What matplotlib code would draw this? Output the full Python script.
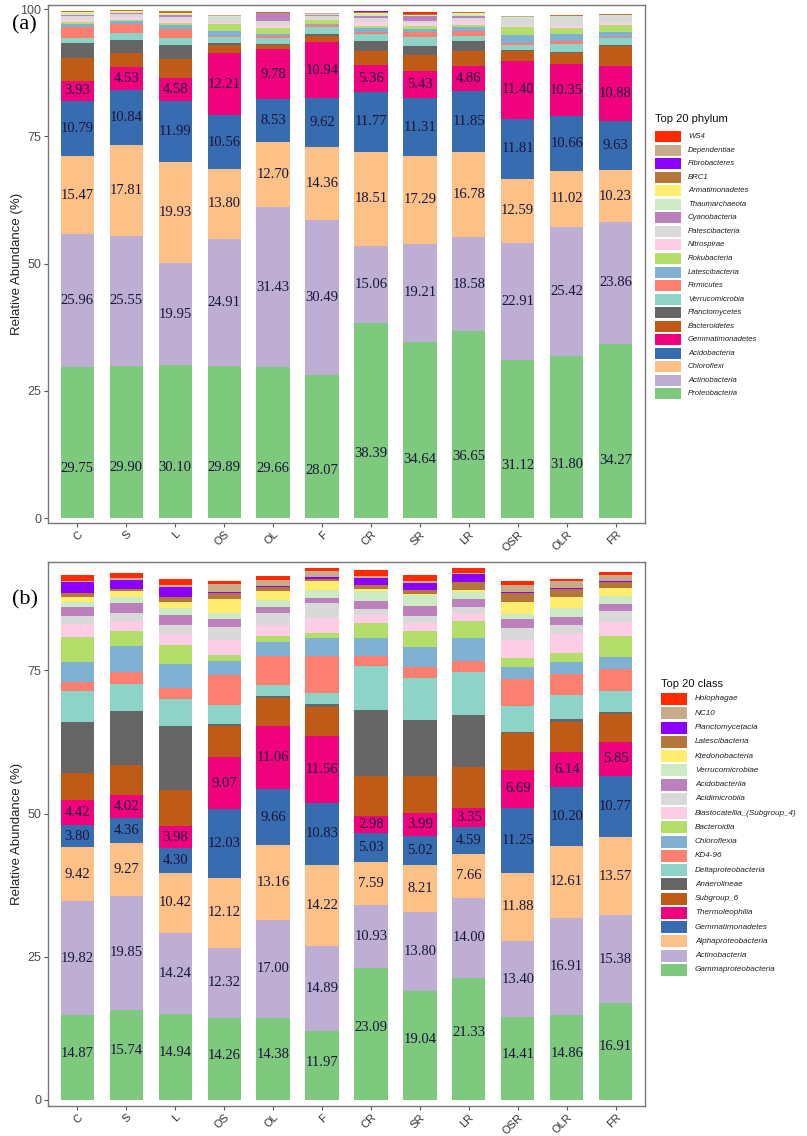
import matplotlib
matplotlib.use("Agg")
import matplotlib.pyplot as plt
from matplotlib.patches import Rectangle
import numpy as np

samples = ["C", "S", "L", "OS", "OL", "F", "CR", "SR", "LR", "OSR", "OLR", "FR"]

# ---------------- Panel (a): phylum (bottom -> top) ----------------
phylum_names = ["Proteobacteria", "Actinobacteria", "Chloroflexi", "Acidobacteria",
                "Gemmatimonadetes", "Bacteroidetes", "Planctomycetes", "Verrucomicrobia",
                "Firmicutes", "Latescibacteria", "Rokubacteria", "Nitrospirae",
                "Patescibacteria", "Cyanobacteria", "Thaumarchaeota", "Armatimonadetes",
                "BRC1", "Fibrobacteres", "Dependentiae", "WS4"]
phylum_colors = ["#7FC97F", "#BEAED4", "#FDC086", "#386CB0", "#F0027F", "#BF5B17",
                 "#666666", "#8DD3C7", "#FB8072", "#80B1D3", "#B3DE69", "#FCCDE5",
                 "#D9D9D9", "#BC80BD", "#CCEBC5", "#FFED6F", "#B5763C", "#8B00FF",
                 "#C8AB8A", "#FF2A00"]
phylum_values = [
    [29.75, 29.90, 30.10, 29.89, 29.66, 28.07, 38.39, 34.64, 36.65, 31.12, 31.80, 34.27],
    [25.96, 25.55, 19.95, 24.91, 31.43, 30.49, 15.06, 19.21, 18.58, 22.91, 25.42, 23.86],
    [15.47, 17.81, 19.93, 13.80, 12.70, 14.36, 18.51, 17.29, 16.78, 12.59, 11.02, 10.23],
    [10.79, 10.84, 11.99, 10.56, 8.53, 9.62, 11.77, 11.31, 11.85, 11.81, 10.66, 9.63],
    [3.93, 4.53, 4.58, 12.21, 9.78, 10.94, 5.36, 5.43, 4.86, 11.40, 10.35, 10.88],
    [4.5, 2.8, 3.6, 1.56, 0.8, 1.2, 2.7, 3.1, 3.1, 1.9, 2.1, 3.9],
    [2.9, 2.5, 2.8, 0.33, 0.33, 0.33, 2.0, 1.8, 2.0, 0.2, 0.2, 0.2],
    [1.0, 1.3, 1.3, 1.17, 1.1, 1.5, 1.25, 1.8, 0.9, 1.0, 1.6, 1.3],
    [2.1, 1.8, 1.77, 0.33, 0.33, 0.33, 0.5, 0.9, 1.0, 0.33, 0.65, 0.3],
    [0.7, 0.6, 0.8, 1.0, 0.5, 0.3, 0.65, 0.7, 0.8, 1.6, 1.3, 1.0],
    [0.4, 0.3, 0.4, 1.3, 1.2, 0.7, 0.4, 0.4, 0.4, 1.6, 1.2, 1.3],
    [0.5, 0.6, 0.7, 0.3, 0.5, 0.2, 0.9, 0.6, 0.8, 0.2, 0.3, 0.3],
    [0.6, 0.5, 0.6, 1.0, 0.8, 0.6, 0.8, 0.5, 0.6, 1.5, 1.8, 1.4],
    [0.3, 0.2, 0.3, 0.15, 1.5, 0.1, 0.3, 0.9, 0.3, 0.1, 0.1, 0.1],
    [0.3, 0.2, 0.3, 0.1, 0.1, 0.2, 0.4, 0.2, 0.4, 0.1, 0.1, 0.1],
    [0.2, 0.15, 0.2, 0.05, 0.05, 0.1, 0.3, 0.1, 0.2, 0.1, 0.1, 0.1],
    [0.15, 0.15, 0.3, 0.05, 0.05, 0.05, 0.2, 0.1, 0.2, 0.05, 0.05, 0.1],
    [0.05, 0.02, 0.02, 0.01, 0.01, 0.01, 0.05, 0.05, 0.02, 0.01, 0.01, 0.01],
    [0.05, 0.02, 0.02, 0.05, 0.05, 0.05, 0.05, 0.05, 0.05, 0.05, 0.05, 0.1],
    [0.02, 0.02, 0.02, 0.01, 0.01, 0.01, 0.02, 0.4, 0.02, 0.01, 0.01, 0.01],
]

# ---------------- Panel (b): class (bottom -> top) ----------------
class_names = ["Gammaproteobacteria", "Actinobacteria", "Alphaproteobacteria",
               "Gemmatimonadetes", "Thermoleophilia", "Subgroup_6", "Anaerolineae",
               "Deltaproteobacteria", "KD4-96", "Chloroflexia", "Bacteroidia",
               "Blastocatellia_(Subgroup_4)", "Acidimicrobiia", "Acidobacteriia",
               "Verrucomicrobiae", "Ktedonobacteria", "Latescibacteria",
               "Planctomycetacia", "NC10", "Holophagae"]
class_colors = phylum_colors
class_values = [
    [14.87, 15.74, 14.94, 14.26, 14.38, 11.97, 23.09, 19.04, 21.33, 14.41, 14.86, 16.91],
    [19.82, 19.85, 14.24, 12.32, 17.00, 14.89, 10.93, 13.80, 14.00, 13.40, 16.91, 15.38],
    [9.42, 9.27, 10.42, 12.12, 13.16, 14.22, 7.59, 8.21, 7.66, 11.88, 12.61, 13.57],
    [3.80, 4.36, 4.30, 12.03, 9.66, 10.83, 5.03, 5.02, 4.59, 11.25, 10.20, 10.77],
    [4.42, 4.02, 3.98, 9.07, 11.06, 11.56, 2.98, 3.99, 3.35, 6.69, 6.14, 5.85],
    [4.8, 5.2, 6.2, 5.5, 4.85, 5.17, 6.9, 6.5, 7.2, 6.37, 5.3, 4.9],
    [8.9, 9.4, 11.2, 0.3, 0.4, 0.45, 11.5, 9.7, 9.1, 0.3, 0.4, 0.4],
    [5.4, 4.8, 4.7, 3.3, 2.0, 1.9, 7.7, 7.4, 7.55, 4.5, 4.3, 3.6],
    [1.57, 2.0, 1.85, 5.35, 4.95, 6.5, 1.75, 1.85, 1.85, 4.6, 3.65, 3.8],
    [3.4, 4.55, 4.25, 2.4, 2.5, 3.07, 3.25, 3.55, 3.97, 2.2, 2.15, 2.06],
    [4.46, 2.6, 3.4, 1.1, 1.0, 1.0, 2.45, 2.85, 3.03, 1.6, 1.57, 3.7],
    [2.2, 1.87, 1.9, 2.5, 1.9, 2.5, 1.45, 1.35, 1.3, 3.1, 3.25, 2.5],
    [1.45, 1.35, 1.45, 2.3, 2.15, 2.6, 1.0, 1.3, 1.05, 2.1, 1.6, 1.9],
    [1.6, 1.75, 1.75, 1.35, 1.05, 1.0, 1.5, 1.6, 1.4, 1.5, 1.34, 1.3],
    [0.87, 1.0, 1.3, 1.16, 1.16, 1.3, 1.74, 1.9, 1.3, 1.0, 1.57, 1.28],
    [0.87, 1.05, 1.05, 2.3, 1.6, 1.6, 0.3, 0.25, 0.4, 1.96, 2.0, 1.5],
    [0.6, 0.4, 0.87, 1.2, 0.7, 0.4, 0.8, 0.65, 1.25, 1.55, 1.3, 1.0],
    [1.9, 1.6, 1.75, 0.1, 0.25, 0.4, 1.2, 1.3, 1.4, 0.2, 0.2, 0.2],
    [0.3, 0.25, 0.3, 1.4, 1.05, 1.05, 0.25, 0.3, 0.2, 1.3, 1.15, 0.95],
    [1.0, 0.9, 1.15, 0.6, 0.6, 0.45, 1.15, 1.0, 0.85, 0.7, 0.5, 0.5],
]
n_labeled = 5
# relative position of the value label inside each labelled segment
label_vjust_a = [0.33, 0.5, 0.5, 0.5, 0.5]
label_vjust_b = [0.55, 0.5, 0.5, 0.5, 0.5]

W, H = 807, 1136
fig = plt.figure(figsize=(W / 100, H / 100), dpi=100)


def axrect(l, t, r, b):
    return [l / W, 1 - b / H, (r - l) / W, (b - t) / H]


SANS = "Liberation Sans"
SERIF = "Liberation Serif"
TEXT_COL = "#16163a"


def draw_panel(ax, values, colors, ylim, vjust):
    x = np.arange(len(samples))
    bottom = np.zeros(len(samples))
    for i, (vals, col) in enumerate(zip(values, colors)):
        vals = np.array(vals)
        ax.bar(x, vals, bottom=bottom, width=0.68, color=col, linewidth=0)
        if i < n_labeled:
            for xi, v, b in zip(x, vals, bottom):
                ax.text(xi, b + v * vjust[i], f"{v:.2f}", ha="center", va="center",
                        fontsize=10.5, family=SERIF, color=TEXT_COL)
        bottom = bottom + vals
    ax.set_yticks([0, 25, 50, 75, 100])
    ax.set_xticks(x)
    ax.set_xlim(-0.6, len(samples) - 0.4)
    ax.set_ylim(*ylim)
    ax.set_xticklabels(samples, rotation=45, ha="right", va="top",
                       rotation_mode="anchor", fontsize=8, family=SANS, color="#333333")
    for lab in ax.get_yticklabels():
        lab.set_family(SANS)
        lab.set_fontsize(9)
        lab.set_color("#4d4d4d")
    ax.tick_params(axis="both", length=3, width=0.8, color="#555555")
    ax.tick_params(axis="x", pad=1.5)
    ax.tick_params(axis="y", pad=2)
    for s in ax.spines.values():
        s.set_color("#777777")
        s.set_linewidth(1.0)
    ax.set_ylabel("Relative Abundance (%)", family=SANS, fontsize=9.5, color="#222222",
                  va="center")
    ax.yaxis.set_label_coords(-0.052, 0.5)


def draw_legend(title, names, colors, x0, y_title, y_first, step, kw, kh, tx, fs_title, fs):
    tr = fig.transFigure
    fig.text(x0 / W, 1 - y_title / H, title, family=SANS, fontsize=fs_title,
             ha="left", va="center", color="#111111")
    for j, (nm, col) in enumerate(zip(names[::-1], colors[::-1])):
        yc = y_first + j * step
        fig.add_artist(Rectangle((x0 / W, 1 - (yc + kh / 2) / H), kw / W, kh / H,
                                 transform=tr, facecolor=col, edgecolor="none"))
        fig.text(tx / W, 1 - yc / H, nm, family=SANS, style="italic", fontsize=fs,
                 ha="left", va="center", color="#222222")


axa = fig.add_axes(axrect(48, 5, 645, 523))
draw_panel(axa, phylum_values, phylum_colors, (-0.98, 100.8), label_vjust_a)
axb = fig.add_axes(axrect(48, 562, 645, 1106))
draw_panel(axb, class_values, class_colors, (-1.05, 93.9), label_vjust_b)

draw_legend("Top 20 phylum", phylum_names, phylum_colors, 655, 119, 136.5, 13.55,
            26, 11, 688, 8, 5.6)
draw_legend("Top 20 class", class_names, class_colors, 661, 684, 699, 14.26,
            26, 12, 695, 8, 5.9)

fig.text(12 / W, 1 - 25 / H, "(a)", family=SERIF, fontsize=16, ha="left", va="center")
fig.text(12 / W, 1 - 600 / H, "(b)", family=SERIF, fontsize=16, ha="left", va="center")

fig.savefig("out.png", dpi=100)
